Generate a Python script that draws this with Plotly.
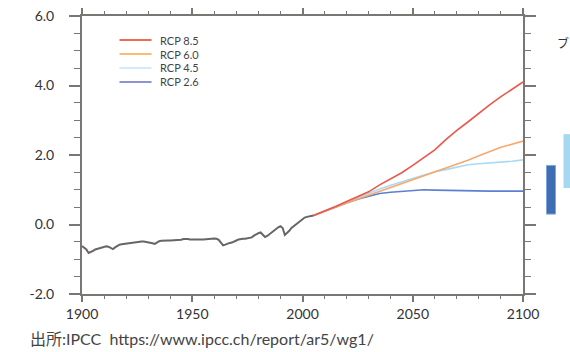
import plotly.graph_objects as go

# ---------------- data ----------------
hist_years = list(range(1900, 2006))
hist_vals = [
    -0.62, -0.66, -0.72, -0.82, -0.80, -0.76, -0.72, -0.70, -0.68, -0.66,
    -0.65, -0.63, -0.64, -0.68, -0.71, -0.66, -0.62, -0.58, -0.57, -0.56,
    -0.55, -0.53, -0.53, -0.52, -0.51, -0.50, -0.50, -0.49, -0.49, -0.50,
    -0.50, -0.52, -0.54, -0.56, -0.52, -0.48, -0.47, -0.46, -0.47, -0.46,
    -0.46, -0.46, -0.45, -0.46, -0.45, -0.44, -0.42, -0.41, -0.42, -0.43,
    -0.44, -0.43, -0.43, -0.42, -0.43, -0.43, -0.42, -0.41, -0.40, -0.40,
    -0.40, -0.41, -0.44, -0.52, -0.60, -0.58, -0.55, -0.53, -0.52, -0.50,
    -0.46, -0.43, -0.41, -0.41, -0.41, -0.40, -0.40, -0.37, -0.32, -0.28,
    -0.25, -0.23, -0.30, -0.36, -0.33, -0.28, -0.22, -0.16, -0.11, -0.08,
    -0.05, -0.10, -0.30, -0.25, -0.18, -0.10, -0.05, -0.02, 0.04, 0.10,
    0.15, 0.20, 0.22, 0.24, 0.25, 0.26,
]

proj_years = [2005, 2010, 2015, 2020, 2025, 2030, 2035, 2040, 2045, 2050,
              2055, 2060, 2065, 2070, 2075, 2080, 2085, 2090, 2095, 2100]
rcp85 = [0.26, 0.38, 0.52, 0.66, 0.80, 0.94, 1.14, 1.32, 1.49, 1.70,
         1.93, 2.15, 2.44, 2.71, 2.95, 3.21, 3.45, 3.68, 3.88, 4.10]
rcp60 = [0.26, 0.37, 0.50, 0.62, 0.73, 0.84, 0.95, 1.07, 1.19, 1.30,
         1.41, 1.52, 1.61, 1.72, 1.85, 1.98, 2.10, 2.22, 2.31, 2.40]
rcp45 = [0.26, 0.38, 0.52, 0.65, 0.78, 0.90, 1.02, 1.13, 1.23, 1.33,
         1.42, 1.52, 1.58, 1.65, 1.72, 1.75, 1.77, 1.79, 1.82, 1.86]
rcp26 = [0.26, 0.38, 0.52, 0.62, 0.73, 0.82, 0.89, 0.93, 0.96, 0.98,
         1.00, 0.99, 0.98, 0.97, 0.96, 0.95, 0.96, 0.96, 0.97, 0.96]

series_names = ["RCP 8.5", "RCP 6.0", "RCP 4.5", "RCP 2.6"]
series_colors = ["#e9584c", "#f7a86c", "#a9daf4", "#5c80cf"]
legend_colors = ["#ef6a52", "#fbbb72", "#d3ebf8", "#8d92d2"]

# 2100 likely ranges (right-side bars)
range_26 = [0.3, 1.7]
range_45 = [1.05, 2.6]

y_ticks = [-2, 0, 2, 4, 6]
y_tick_text = ["-2.0", "0.0", "2.0", "4.0", "6.0"]
x_ticks = [1900, 1950, 2000, 2050, 2100]
x_tick_text = ["1900", "1950", "2000", "2050", "2100"]

source_text = "出所:IPCC  https://www.ipcc.ch/report/ar5/wg1/"

FONT = "Lato, 'Noto Sans CJK JP', sans-serif"
AX = "#7a7674"

fig = go.Figure()
proj = {"RCP 8.5": rcp85, "RCP 6.0": rcp60, "RCP 4.5": rcp45, "RCP 2.6": rcp26}
draw_order = ["RCP 2.6", "RCP 4.5", "RCP 6.0", "RCP 8.5"]
for name in draw_order:
    i = series_names.index(name)
    fig.add_trace(go.Scatter(x=proj_years, y=proj[name], mode="lines", name=name,
                             line=dict(color=series_colors[i], width=1.6),
                             showlegend=False))
fig.add_trace(go.Scatter(x=hist_years, y=hist_vals, mode="lines", name="Historical",
                         line=dict(color="#676565", width=2), showlegend=False))

# custom legend (keys + labels)
shapes = []
annotations = []
lx0, lx1 = (120 - 82.5) / 441, (152 - 82.5) / 441
ltx = (158 - 82.5) / 441
ly = [40, 54, 68, 82]
for i, name in enumerate(series_names):
    yp = 1 - (ly[i] - 16) / 278
    shapes.append(dict(type="line", xref="paper", yref="paper", x0=lx0, x1=lx1,
                       y0=yp, y1=yp, line=dict(color=legend_colors[i], width=2)))
    annotations.append(dict(x=ltx, y=yp, xref="paper", yref="paper", text=name,
                            showarrow=False, xanchor="left", yanchor="middle",
                            font=dict(family=FONT, size=11, color="#444")))

# range bars at the right
shapes.append(dict(type="rect", xref="paper", yref="y",
                   x0=(547 - 82.5) / 441, x1=(556 - 82.5) / 441,
                   y0=range_26[0], y1=range_26[1],
                   fillcolor="#3f6db3", line=dict(color="#7fa6dc", width=1)))
shapes.append(dict(type="rect", xref="paper", yref="y",
                   x0=(564 - 82.5) / 441, x1=(575 - 82.5) / 441,
                   y0=range_45[0], y1=range_45[1],
                   fillcolor="#a6d8f1", line=dict(width=0)))

annotations.append(dict(x=(555 - 82.5) / 441, y=1 - (43 - 16) / 278, xref="paper", yref="paper",
                        text="ブ", showarrow=False, xanchor="left", yanchor="middle",
                        font=dict(family=FONT, size=12, color="#333")))
annotations.append(dict(x=(28 - 82.5) / 441, y=1 - (338 - 16) / 278, xref="paper", yref="paper",
                        text=source_text, showarrow=False, xanchor="left", yanchor="middle",
                        font=dict(family=FONT, size=16, color="#444")))

fig.update_layout(
    width=570, height=352,
    margin=dict(l=82, r=47, t=16, b=58, autoexpand=False),
    paper_bgcolor="white", plot_bgcolor="white",
    font=dict(family=FONT, color="#333"),
    shapes=shapes, annotations=annotations,
    showlegend=False,
)
fig.update_xaxes(
    range=[1900, 2100], tickvals=x_ticks, ticktext=x_tick_text,
    showgrid=False, zeroline=False, automargin=False,
    showline=True, linecolor=AX, linewidth=2, mirror="allticks",
    ticks="outside", ticklen=6, tickwidth=2, tickcolor=AX,
    tickfont=dict(family=FONT, size=14, color="#333"),
    minor=dict(dtick=10, ticks="outside", ticklen=3, tickwidth=1, tickcolor=AX, showgrid=False),
)
fig.update_yaxes(
    range=[-2, 6], tickvals=y_ticks, ticktext=y_tick_text,
    showgrid=False, zeroline=False, automargin=False,
    showline=True, linecolor=AX, linewidth=2, mirror="allticks",
    ticks="outside", ticklen=11, tickwidth=2, tickcolor=AX,
    tickfont=dict(family=FONT, size=14, color="#333"),
    ticklabelstandoff=12,
    minor=dict(dtick=0.5, ticks="outside", ticklen=6, tickwidth=1, tickcolor=AX, showgrid=False),
)

fig.write_html("out.html", config={"displayModeBar": False},
               post_script="document.body.style.margin='0';")
